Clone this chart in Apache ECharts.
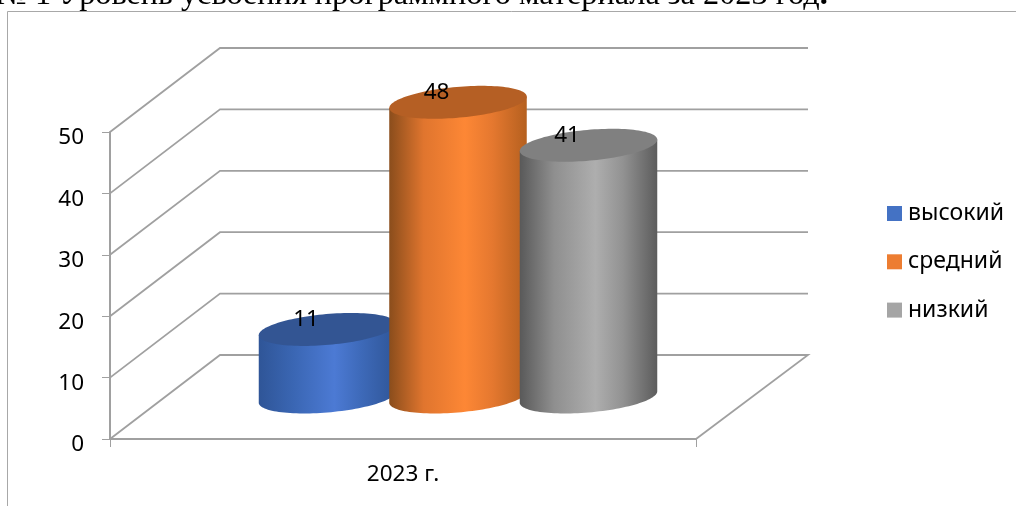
<!DOCTYPE html>
<html><head><meta charset="utf-8">
<style>html,body{margin:0;padding:0;background:#fff}#c{width:1016px;height:506px}</style>
<script src="https://cdn.jsdelivr.net/npm/echarts@6/dist/echarts.min.js"></script>
</head><body><div id="c"></div>
<script>
const titleText = '№ 1 Уровень усвоения программного материала за 2023 год';
const categories = ['2023 г.'];
const seriesNames = ['высокий', 'средний', 'низкий'];
const seriesValues = [11, 48, 41];
const yTicks = [0, 10, 20, 30, 40, 50];

const legendColors = ['#4472c4', '#ed7d31', '#a5a5a5'];
const sideStops = [
  ['#2f5597', '#3a66b3', '#4c7ad4', '#3d69b8', '#2f5597'],
  ['#8a4d1c', '#e0752e', '#fd8735', '#e5782f', '#b5601f'],
  ['#595959', '#8f8f8f', '#aeaeae', '#929292', '#5c5c5c']
];
const topColors = ['#335593', '#b55f24', '#808080'];
const FONT = '"Noto Sans"';
const depthX = 110, depthY = 84, radX = 69, radY = 15.4, tilt = -5 * Math.PI / 180, step = 130.5;
const gridColor = '#a0a0a0';

function ellPoint(cx, cy, t) {
  return [cx + radX * Math.cos(t) * Math.cos(tilt) - radY * Math.sin(t) * Math.sin(tilt),
          cy + radX * Math.cos(t) * Math.sin(tilt) + radY * Math.sin(t) * Math.cos(tilt)];
}
function wallRender(params, api) {
  const r = params.coordSys, y = api.coord([0, api.value(1)])[1];
  const x0 = r.x, x1 = r.x + depthX, x2 = r.x + r.width + depthX + 2;
  const isFloor = api.value(1) === 0;
  const pts = [[x0, y], [x1, y - depthY], [x2, y - depthY]];
  if (isFloor) pts.push([r.x + r.width, y]);
  return {type: 'polyline', shape: {points: pts}, style: {fill: 'none', stroke: gridColor, lineWidth: 1.8}};
}
function cylinderRender(index) {
  return function (params, api) {
    const c = api.coord([0, api.value(1)]), base = api.coord([0, 0]);
    const cx = c[0] + depthX / 2 + (index - 1) * step;
    const topY = c[1] - depthY / 2, botY = base[1] - depthY / 2;
    const tExt = Math.atan2(-radY * Math.sin(tilt), radX * Math.cos(tilt));
    const right = ellPoint(cx, topY, tExt), left = ellPoint(cx, topY, tExt + Math.PI);
    const pts = [left, right];
    for (let i = 0; i <= 60; i++) pts.push(ellPoint(cx, botY, tExt + Math.PI * i / 60));
    const top = [];
    for (let i = 0; i < 120; i++) top.push(ellPoint(cx, topY, Math.PI * i / 60));
    const stops = [0, .25, .55, .75, 1].map((o, k) => ({offset: o, color: sideStops[index][k]}));
    return {type: 'group', children: [
      {type: 'polygon', shape: {points: pts},
       style: {fill: new echarts.graphic.LinearGradient(0, 0, 1, 0, stops)}},
      {type: 'polygon', shape: {points: top}, style: {fill: topColors[index]}},
      {type: 'text', x: cx - 21.5, y: topY - 9.5,
       style: {text: String(api.value(1)), font: '22.5px ' + FONT, fill: '#000', align: 'center', verticalAlign: 'middle'}}
    ]};
  };
}
const option = {
  animation: false,
  backgroundColor: '#fff',
  title: {
    text: '{a|' + titleText + '}{b|.}', left: -4, top: -20, padding: 0,
    textStyle: {fontWeight: 'normal', rich: {
      a: {fontFamily: '"Liberation Serif"', fontSize: 32.3, fontWeight: 'normal', color: '#000'},
      b: {fontFamily: '"Liberation Serif"', fontSize: 32.3, fontWeight: 'bold', color: '#000'}
    }}
  },
  grid: {left: 110, top: 132, width: 586, height: 307},
  legend: {
    orient: 'vertical', left: 887, top: 202, padding: 0, itemWidth: 15, itemHeight: 15, itemGap: 25.3, icon: 'rect',
    data: seriesNames, selectedMode: false,
    textStyle: {fontFamily: FONT, fontSize: 23, color: '#000', padding: [0, 0, 0, 1]}
  },
  xAxis: {type: 'category', data: categories,
    axisLine: {lineStyle: {color: gridColor, width: 1.8}},
    axisTick: {show: true, length: 8, lineStyle: {color: gridColor, width: 1}},
    axisLabel: {fontFamily: FONT, fontSize: 22.5, color: '#000', margin: 24}},
  yAxis: {type: 'value', min: 0, max: 50, interval: 10,
    splitLine: {show: false},
    axisLine: {show: true, lineStyle: {color: gridColor, width: 2}},
    axisTick: {show: true, length: 8, lineStyle: {color: gridColor, width: 1}},
    axisLabel: {color: '#000', margin: 26, formatter: '{t|{value}}',
      rich: {t: {fontFamily: FONT, fontSize: 22.5, color: '#000', padding: [12, 0, 0, 0]}}}},
  graphic: [
    {type: 'polyline', silent: true, z: -1, shape: {points: [[7.5, 506], [7.5, 11.5], [1016, 11.5]]},
     style: {fill: 'none', stroke: '#a8a8a8', lineWidth: 1}}
  ],
  series: [{type: 'custom', silent: true, z: 1, renderItem: wallRender, data: yTicks.map(v => [0, v]), encode: {x: 0, y: 1}}]
    .concat(seriesNames.map((n, i) => ({
      type: 'custom', name: n, z: 2 + i, silent: true, renderItem: cylinderRender(i),
      itemStyle: {color: legendColors[i]}, data: [[0, seriesValues[i]]], encode: {x: 0, y: 1}
    })))
};
const chart = echarts.init(document.getElementById('c'), null, {renderer: 'canvas'});
chart.setOption(option);
</script></body></html>
